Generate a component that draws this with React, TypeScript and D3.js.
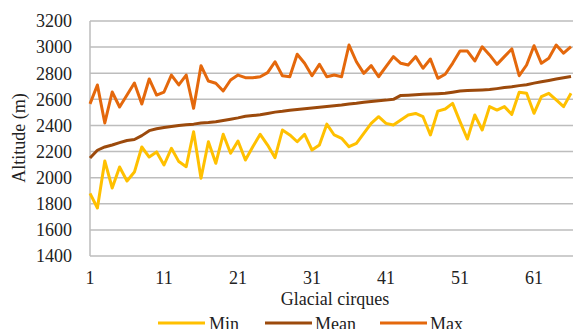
import React from "react";
import * as d3 from "d3";

// values (m a.s.l.), cirques 1..66
const minAlt = [
  1880, 1768, 2128, 1921, 2082, 1975, 2043, 2235, 2158, 2197,
  2097, 2225, 2123, 2084, 2352, 1995, 2275, 2110, 2332, 2187,
  2281, 2135, 2237, 2332, 2250, 2153, 2365, 2327, 2275, 2332,
  2212, 2250, 2410, 2327, 2301, 2237, 2263, 2340, 2416, 2467,
  2416, 2403, 2442, 2480, 2492, 2467, 2327, 2510, 2526, 2569,
  2429, 2296, 2480, 2365, 2544, 2518, 2544, 2485, 2654, 2646,
  2493, 2620, 2646, 2595, 2544, 2646,
];
const meanAlt = [
  2150, 2210, 2235, 2250, 2268, 2285, 2292, 2322, 2360, 2375,
  2385, 2392, 2400, 2405, 2410, 2418, 2422, 2428, 2438, 2448,
  2458, 2470, 2476, 2482, 2492, 2502, 2508, 2516, 2522, 2528,
  2534, 2540, 2545, 2550, 2556, 2564, 2570, 2578, 2584, 2590,
  2594, 2600, 2630, 2632, 2635, 2638, 2640, 2643, 2646, 2655,
  2664, 2667, 2670, 2672, 2675, 2682, 2690, 2696, 2705, 2712,
  2724, 2734, 2744, 2755, 2765, 2775,
];
const maxAlt = [
  2565, 2710, 2419, 2656, 2541, 2633, 2725, 2564, 2756, 2633,
  2656, 2786, 2710, 2786, 2531, 2858, 2740, 2723, 2664, 2748,
  2786, 2766, 2765, 2773, 2805, 2888, 2781, 2773, 2945, 2876,
  2781, 2868, 2773, 2786, 2773, 3016, 2888, 2799, 2858, 2773,
  2850, 2927, 2876, 2863, 2927, 2838, 2909, 2761, 2792, 2876,
  2970, 2970, 2894, 3003, 2940, 2868, 2927, 2986, 2781, 2863,
  3011, 2876, 2914, 3016, 2953, 3003,
];
const yTicks = [1400, 1600, 1800, 2000, 2200, 2400, 2600, 2800, 3000, 3200];
const xTicks = [1, 11, 21, 31, 41, 51, 61];

const series = [
  { name: "Min", values: minAlt, color: "#FFC000" },
  { name: "Mean", values: meanAlt, color: "#9C4A0C" },
  { name: "Max", values: maxAlt, color: "#E4680C" },
];

const W = 573;
const H = 329;
const font = "'Liberation Serif', 'Times New Roman', serif";

export default function App() {
  const x = d3.scaleLinear().domain([1, 66]).range([90, 571]);
  const y = d3.scaleLinear().domain([1400, 3200]).range([256, 21]);
  const line = d3
    .line<number>()
    .x((_, i) => x(i + 1))
    .y((d) => y(d));

  const legendPos = [
    { x1: 158, x2: 205, tx: 209 },
    { x1: 265, x2: 312, tx: 315 },
    { x1: 380, x2: 427, tx: 430 },
  ];

  return (
    <svg
      width={W}
      height={H}
      style={{ position: "absolute", left: 0, top: 0, background: "#fff" }}
      fontFamily={font}
    >
      {yTicks.map((t) => (
        <line key={t} x1={90} x2={W} y1={y(t)} y2={y(t)} stroke="#bdbdbd" strokeWidth={1.5} />
      ))}
      <line x1={90} x2={90} y1={y(3200)} y2={y(1400)} stroke="#bdbdbd" strokeWidth={1.5} />
      {yTicks.map((t) => (
        <text key={t} x={72} y={y(t)} dy="0.35em" textAnchor="end" fontSize={18} fill="#222">
          {t}
        </text>
      ))}
      {xTicks.map((t) => (
        <text key={t} x={x(t)} y={284} textAnchor="middle" fontSize={18} fill="#222">
          {t}
        </text>
      ))}
      <text
        transform={`translate(25,138) rotate(-90)`}
        textAnchor="middle"
        fontSize={18}
        fill="#222"
      >
        Altitude (m)
      </text>
      <text x={335} y={305} textAnchor="middle" fontSize={18} fill="#222">
        Glacial cirques
      </text>
      {series.map((s) => (
        <path
          key={s.name}
          d={line(s.values) ?? ""}
          fill="none"
          stroke={s.color}
          strokeWidth={3}
          strokeLinejoin="round"
        />
      ))}
      {series.map((s, i) => (
        <g key={s.name}>
          <line
            x1={legendPos[i].x1}
            x2={legendPos[i].x2}
            y1={323}
            y2={323}
            stroke={s.color}
            strokeWidth={3}
          />
          <text x={legendPos[i].tx} y={330} fontSize={18} fill="#222">
            {s.name}
          </text>
        </g>
      ))}
    </svg>
  );
}
